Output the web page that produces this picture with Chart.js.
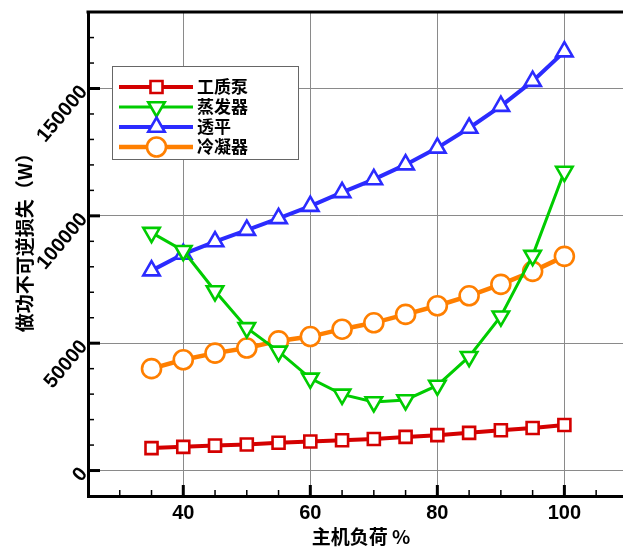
<!DOCTYPE html>
<html>
<head>
<meta charset="utf-8">
<script src="https://cdn.jsdelivr.net/npm/chart.js@4.4.1/dist/chart.umd.min.js"></script>
<style>
  html, body { margin: 0; padding: 0; background: #fff; overflow: hidden; }
  #wrap { width: 623px; height: 548px; overflow: hidden; }
</style>
</head>
<body>
<div id="wrap"><canvas id="c" width="640" height="548"></canvas></div>
<script>
// Data
const loads = [35, 40, 45, 50, 55, 60, 65, 70, 75, 80, 85, 90, 95, 100];
const pump = [8800, 9300, 9800, 10200, 10900, 11400, 11900, 12400, 13200, 13900, 14800, 15800, 16700, 17900];
const evaporator = [93400, 86300, 70500, 56000, 46800, 36200, 29900, 26900, 27700, 33400, 44700, 60600, 84400, 117400];
const turbine = [78500, 85000, 89900, 94400, 99000, 103800, 109200, 114300, 120100, 126700, 134500, 143100, 152900, 164500];
const condenser = [40000, 43500, 46100, 48100, 50900, 52600, 55500, 58000, 61300, 64700, 68600, 73100, 78200, 84100];

const seriesNames = ['工质泵', '蒸发器', '透平', '冷凝器'];
const xMajor = [40, 60, 80, 100];
const yMajor = [0, 50000, 100000, 150000];

const xTitle = '主机负荷 %';
const yTitle = '做功不可逆损失（W）';

const cjk = '"Noto Sans CJK SC", "Noto Sans", sans-serif';
const num = '"Liberation Sans", Arial, sans-serif';

function ds(label, data, color, style, rot, radius, lineW) {
  return {
    label, data: data.map((v, i) => ({ x: loads[i], y: v })),
    borderColor: color, backgroundColor: '#fff',
    borderWidth: lineW, pointStyle: style, rotation: rot,
    pointRadius: radius, pointBorderWidth: 2.6,
    pointBackgroundColor: '#fff', pointBorderColor: color,
    tension: 0
  };
}

const datasets = [
  ds(seriesNames[0], pump, '#d40000', 'rect', 0, 8.5, 4),
  ds(seriesNames[1], evaporator, '#00cc00', 'triangle', 180, 9.5, 3),
  ds(seriesNames[2], turbine, '#2b2bff', 'triangle', 0, 9.5, 4),
  ds(seriesNames[3], condenser, '#ff7f00', 'circle', 0, 9.5, 4.5)
];

// Inward ticks, top frame, titles and legend
const decor = {
  id: 'decor',
  afterDatasetsDraw(chart) {
    const { ctx, chartArea: a, scales: { x, y } } = chart;
    ctx.save();
    ctx.strokeStyle = '#000';
    x.ticks.forEach(t => {
      const px = x.getPixelForValue(t.value);
      const major = xMajor.includes(t.value);
      ctx.lineWidth = major ? 3 : 1.5;
      ctx.beginPath();
      ctx.moveTo(px, a.bottom);
      ctx.lineTo(px, a.bottom - (major ? 11 : 6));
      ctx.stroke();
    });
    y.ticks.forEach(t => {
      const py = y.getPixelForValue(t.value);
      const major = yMajor.includes(t.value);
      ctx.lineWidth = major ? 3 : 1.5;
      ctx.beginPath();
      ctx.moveTo(a.left, py);
      ctx.lineTo(a.left + (major ? 12 : 6), py);
      ctx.stroke();
    });
    // top frame
    ctx.lineWidth = 3;
    ctx.beginPath();
    ctx.moveTo(a.left - 1.5, a.top);
    ctx.lineTo(a.right, a.top);
    ctx.stroke();

    // axis titles
    ctx.fillStyle = '#000';
    ctx.textAlign = 'center';
    ctx.textBaseline = 'middle';
    ctx.font = 'bold 19px ' + cjk;
    ctx.fillText(xTitle, 361, 537);
    ctx.translate(25, 238);
    ctx.rotate(-Math.PI / 2);
    ctx.font = 'bold 19px ' + cjk;
    ctx.fillText(yTitle, 0, 0);
    ctx.restore();

    // legend
    ctx.save();
    ctx.fillStyle = '#fff';
    ctx.fillRect(112, 66, 186, 93);
    ctx.strokeStyle = '#666';
    ctx.lineWidth = 1;
    ctx.strokeRect(112.5, 66.5, 186, 93);
    const rows = [87, 107, 127, 147];
    chart.data.datasets.forEach((d, i) => {
      const ry = rows[i];
      ctx.strokeStyle = d.borderColor;
      ctx.lineWidth = d.borderWidth;
      ctx.beginPath();
      ctx.moveTo(119, ry);
      ctx.lineTo(193, ry);
      ctx.stroke();
      ctx.fillStyle = '#fff';
      ctx.lineWidth = d.pointBorderWidth;
      Chart.helpers.drawPoint(ctx, {
        pointStyle: d.pointStyle, rotation: d.rotation,
        radius: d.pointRadius, borderWidth: d.pointBorderWidth
      }, 156.5, ry);
      ctx.fillStyle = '#000';
      ctx.font = 'bold 17px ' + cjk;
      ctx.textAlign = 'left';
      ctx.textBaseline = 'middle';
      ctx.fillText(d.label, 197, ry);
    });
    ctx.restore();
  }
};

new Chart(document.getElementById('c'), {
  type: 'line',
  data: { datasets },
  options: {
    responsive: false,
    animation: false,
    layout: { padding: { top: 9, right: 8, left: 0, bottom: 0 } },
    plugins: { legend: { display: false }, tooltip: { enabled: false } },
    scales: {
      x: {
        type: 'linear', min: 25, max: 110,
        afterFit: s => { s.height = 52; s.paddingLeft = 0; s.paddingRight = 0; },
        ticks: {
          stepSize: 5, autoSkip: false, maxRotation: 0, padding: 5,
          color: '#000', font: { family: num, size: 20, weight: 'bold' },
          callback: v => xMajor.includes(v) ? String(v) : ''
        },
        grid: {
          drawTicks: false,
          color: c => c.tick && xMajor.includes(c.tick.value) ? '#8a8a8a' : 'rgba(0,0,0,0)',
          lineWidth: 1
        },
        border: { display: true, color: '#000', width: 3 }
      },
      y: {
        type: 'linear', min: -10000, max: 180000,
        afterFit: s => { s.width = 88; s.paddingTop = 0; s.paddingBottom = 0; },
        ticks: {
          stepSize: 10000, autoSkip: false, minRotation: 50, maxRotation: 50, padding: 4,
          color: '#000', font: { family: num, size: 20, weight: 'bold' },
          callback: v => yMajor.includes(v) ? String(v) : ''
        },
        grid: {
          drawTicks: false,
          color: c => c.tick && yMajor.includes(c.tick.value) ? '#8a8a8a' : 'rgba(0,0,0,0)',
          lineWidth: 1
        },
        border: { display: true, color: '#000', width: 3 }
      }
    }
  },
  plugins: [decor]
});
</script>
</body>
</html>
